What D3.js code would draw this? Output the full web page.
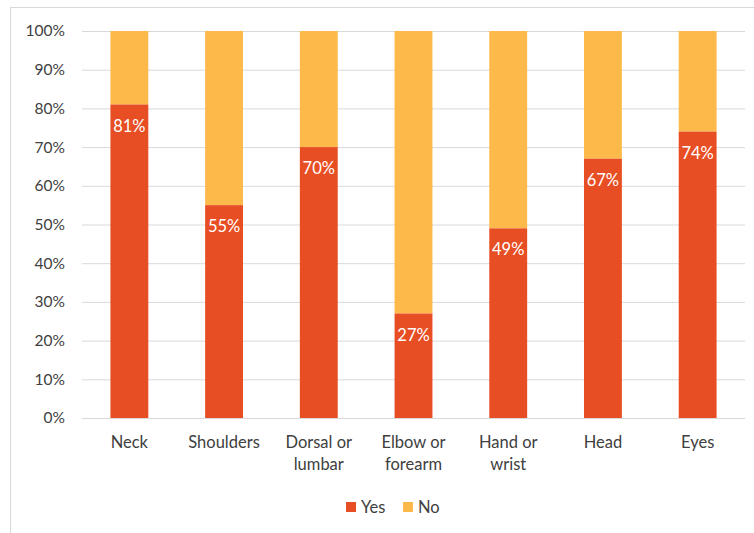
<!DOCTYPE html>
<html><head><meta charset="utf-8">
<script src="https://cdn.jsdelivr.net/npm/d3@7"></script>
<style>body{margin:0;background:#fff}svg{display:block}text{font-family:Lato,"Open Sans",sans-serif}</style>
</head><body>
<script>
const categories = [["Neck"],["Shoulders"],["Dorsal or","lumbar"],["Elbow or","forearm"],["Hand or","wrist"],["Head"],["Eyes"]];
const yesValues = [81,55,70,27,49,67,74];
const noValues = yesValues.map(v=>100-v);
const yTicks = [0,10,20,30,40,50,60,70,80,90,100];
const seriesNames = ["Yes","No"];
const colors = {Yes:"#E84E23", No:"#FDB94A"};

const W=754,H=533;
const svg=d3.select("body").append("svg").attr("width",W).attr("height",H);
svg.append("rect").attr("x",10.5).attr("y",7.5).attr("width",760).attr("height",540).attr("fill","#fff").attr("stroke","#D9D9D9");

const x=d3.scaleBand().domain(d3.range(categories.length)).range([82,745]).paddingInner(0.6).paddingOuter(0.3);
const y=d3.scaleLinear().domain([0,100]).range([418,31]);

svg.append("g").selectAll("line").data(yTicks).join("line")
 .attr("x1",82).attr("x2",745).attr("y1",d=>y(d)+0.5).attr("y2",d=>y(d)+0.5)
 .attr("stroke","#D9D9D9").attr("stroke-width",1);

const yAxis=svg.append("g").attr("transform","translate(82,0)")
 .call(d3.axisLeft(y).tickValues(yTicks).tickFormat(d=>d+"%").tickSize(0).tickPadding(17));
yAxis.select(".domain").remove();
yAxis.selectAll("text").attr("font-size",15.5).attr("fill","#404040").attr("font-family","Lato");

const bars=svg.append("g");
categories.forEach((c,i)=>{
  bars.append("rect").attr("x",x(i)).attr("width",x.bandwidth()).attr("y",y(100)).attr("height",y(yesValues[i])-y(100)).attr("fill",colors.No);
  bars.append("rect").attr("x",x(i)).attr("width",x.bandwidth()).attr("y",y(yesValues[i])).attr("height",y(0)-y(yesValues[i])).attr("fill",colors.Yes);
  svg.append("text").attr("x",x(i)+x.bandwidth()/2).attr("y",y(yesValues[i])+27).attr("text-anchor","middle")
   .attr("font-size",16.5).attr("fill","#fff").text(yesValues[i]+"%");
});
svg.append("line").attr("x1",82).attr("x2",745).attr("y1",418.5).attr("y2",418.5).attr("stroke","#D9D9D9");

const xl=svg.append("g");
categories.forEach((c,i)=>{
  const t=xl.append("text").attr("x",x(i)+x.bandwidth()/2).attr("y",448).attr("text-anchor","middle").attr("font-size",16.5).attr("fill","#404040");
  c.forEach((line,j)=>t.append("tspan").attr("x",x(i)+x.bandwidth()/2).attr("dy",j?22:0).text(line));
});

const lg=svg.append("g");
const legendX=[346,403];
seriesNames.forEach((s,i)=>{
  lg.append("rect").attr("x",legendX[i]).attr("y",502).attr("width",10).attr("height",10).attr("fill",colors[s]);
  lg.append("text").attr("x",legendX[i]+15).attr("y",513).attr("font-size",16.5).attr("fill","#404040").text(s);
});
</script>
</body></html>
